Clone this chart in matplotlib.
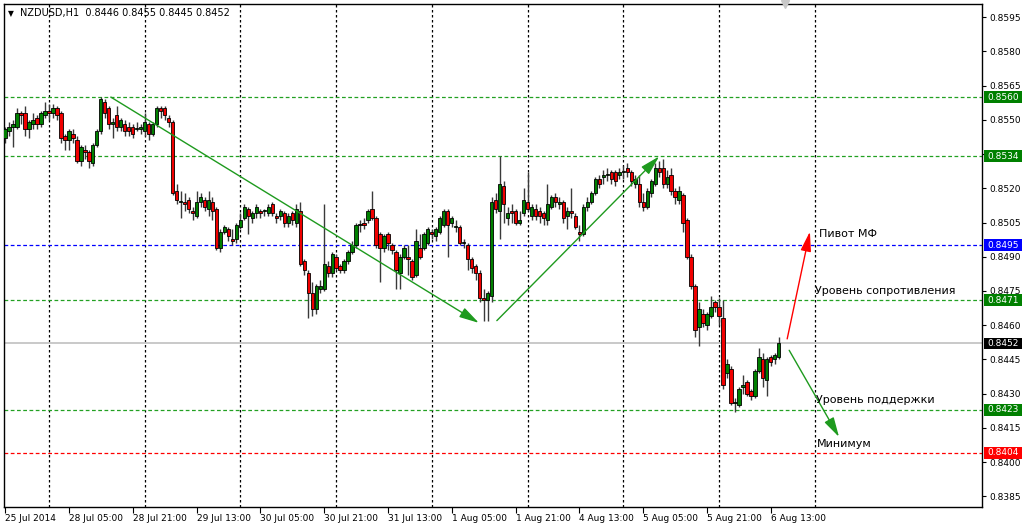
import numpy as np
import matplotlib.pyplot as plt
from matplotlib.patches import Rectangle
from matplotlib.transforms import blended_transform_factory

# NZDUSD H1 candles, 25 Jul 2014 13:00 .. 6 Aug 2014
opens = [0.8542, 0.8545, 0.8547, 0.8547, 0.8553, 0.8553, 0.8546, 0.8548, 0.8551, 0.8548,
         0.8552, 0.8554, 0.8553, 0.8555, 0.8553, 0.8543, 0.8541, 0.8544, 0.8541, 0.8532,
         0.8537, 0.8536, 0.8531, 0.8539, 0.8545, 0.8558, 0.8555, 0.8548, 0.8552, 0.8547,
         0.8548, 0.8547, 0.8547, 0.8546, 0.8546, 0.8545, 0.8548, 0.8544, 0.8548, 0.8555,
         0.8555, 0.8551, 0.8549, 0.8519, 0.8514, 0.8514, 0.8515, 0.8510, 0.8508, 0.8514,
         0.8515, 0.8511, 0.8514, 0.8511, 0.8494, 0.8501, 0.8502, 0.8498, 0.8498, 0.8503,
         0.8507, 0.8511, 0.8507, 0.8509, 0.8510, 0.8510, 0.8509, 0.8513, 0.8508, 0.8508,
         0.8509, 0.8505, 0.8509, 0.8505, 0.8510, 0.8488, 0.8483, 0.8474, 0.8467, 0.8476,
         0.8476, 0.8486, 0.8483, 0.8490, 0.8486, 0.8484, 0.8488, 0.8492, 0.8495, 0.8504,
         0.8505, 0.8506, 0.8511, 0.8507, 0.8500, 0.8494, 0.8500, 0.8495, 0.8492, 0.8483,
         0.8490, 0.8490, 0.8488, 0.8482, 0.8494, 0.8494, 0.8496, 0.8501, 0.8499, 0.8501,
         0.8504, 0.8510, 0.8505, 0.8503, 0.8503, 0.8496, 0.8495, 0.8489, 0.8486, 0.8483,
         0.8472, 0.8471, 0.8473, 0.8515, 0.8510, 0.8521, 0.8507, 0.8510, 0.8510, 0.8505,
         0.8509, 0.8514, 0.8508, 0.8511, 0.8510, 0.8509, 0.8506, 0.8512, 0.8516, 0.8513,
         0.8514, 0.8508, 0.8510, 0.8508, 0.8501, 0.8500, 0.8512, 0.8514, 0.8518, 0.8524,
         0.8525, 0.8526, 0.8527, 0.8527, 0.8526, 0.8527, 0.8529, 0.8527, 0.8522, 0.8522,
         0.8514, 0.8512, 0.8518, 0.8522, 0.8529, 0.8529, 0.8522, 0.8526, 0.8519, 0.8515,
         0.8517, 0.8506, 0.8490, 0.8477, 0.8459, 0.8465, 0.8460, 0.8464, 0.8470, 0.8468,
         0.8463, 0.8439, 0.8441, 0.8426, 0.8425, 0.8433, 0.8435, 0.8431, 0.8429, 0.8440,
         0.8445, 0.8436, 0.8446, 0.8445, 0.8446]
highs = [0.8547, 0.8549, 0.8550, 0.8555, 0.8554, 0.8556, 0.8550, 0.8553, 0.8552, 0.8554,
         0.8558, 0.8557, 0.8557, 0.8556, 0.8554, 0.8544, 0.8546, 0.8546, 0.8543, 0.8539,
         0.8539, 0.8537, 0.8540, 0.8546, 0.8560, 0.8559, 0.8556, 0.8551, 0.8556, 0.8551,
         0.8550, 0.8549, 0.8548, 0.8549, 0.8548, 0.8553, 0.8549, 0.8549, 0.8556, 0.8556,
         0.8556, 0.8552, 0.8550, 0.8522, 0.8519, 0.8518, 0.8516, 0.8512, 0.8519, 0.8518,
         0.8516, 0.8519, 0.8516, 0.8512, 0.8502, 0.8504, 0.8503, 0.8502, 0.8505, 0.8509,
         0.8513, 0.8512, 0.8510, 0.8513, 0.8511, 0.8511, 0.8513, 0.8514, 0.8509, 0.8511,
         0.8510, 0.8509, 0.8510, 0.8513, 0.8514, 0.8489, 0.8484, 0.8479, 0.8478, 0.8480,
         0.8513, 0.8488, 0.8492, 0.8491, 0.8487, 0.8489, 0.8493, 0.8497, 0.8505, 0.8506,
         0.8507, 0.8511, 0.8519, 0.8508, 0.8501, 0.8500, 0.8501, 0.8496, 0.8493, 0.8491,
         0.8495, 0.8495, 0.8489, 0.8502, 0.8500, 0.8501, 0.8503, 0.8502, 0.8503, 0.8508,
         0.8511, 0.8511, 0.8508, 0.8506, 0.8504, 0.8498, 0.8496, 0.8490, 0.8487, 0.8484,
         0.8476, 0.8475, 0.8516, 0.8518, 0.8534, 0.8523, 0.8512, 0.8513, 0.8511, 0.8510,
         0.8520, 0.8527, 0.8513, 0.8513, 0.8512, 0.8510, 0.8522, 0.8517, 0.8518, 0.8516,
         0.8515, 0.8512, 0.8520, 0.8509, 0.8504, 0.8513, 0.8516, 0.8519, 0.8525, 0.8526,
         0.8528, 0.8529, 0.8528, 0.8528, 0.8529, 0.8530, 0.8531, 0.8528, 0.8526, 0.8526,
         0.8518, 0.8520, 0.8524, 0.8531, 0.8532, 0.8533, 0.8528, 0.8529, 0.8520, 0.8521,
         0.8518, 0.8507, 0.8491, 0.8478, 0.8470, 0.8467, 0.8466, 0.8473, 0.8471, 0.8472,
         0.8471, 0.8445, 0.8442, 0.8428, 0.8433, 0.8438, 0.8436, 0.8432, 0.8441, 0.8450,
         0.8448, 0.8446, 0.8447, 0.8448, 0.8455]
lows = [0.8540, 0.8543, 0.8538, 0.8546, 0.8548, 0.8543, 0.8542, 0.8546, 0.8546, 0.8547,
        0.8551, 0.8550, 0.8551, 0.8550, 0.8540, 0.8537, 0.8537, 0.8540, 0.8531, 0.8530,
        0.8533, 0.8529, 0.8530, 0.8538, 0.8544, 0.8551, 0.8546, 0.8542, 0.8545, 0.8545,
        0.8543, 0.8543, 0.8542, 0.8545, 0.8544, 0.8543, 0.8541, 0.8543, 0.8547, 0.8551,
        0.8550, 0.8547, 0.8517, 0.8513, 0.8507, 0.8510, 0.8509, 0.8506, 0.8507, 0.8512,
        0.8510, 0.8508, 0.8506, 0.8493, 0.8492, 0.8500, 0.8497, 0.8495, 0.8496, 0.8502,
        0.8506, 0.8500, 0.8505, 0.8507, 0.8507, 0.8508, 0.8508, 0.8508, 0.8505, 0.8506,
        0.8503, 0.8503, 0.8504, 0.8503, 0.8486, 0.8482, 0.8463, 0.8464, 0.8465, 0.8474,
        0.8475, 0.8481, 0.8481, 0.8484, 0.8483, 0.8483, 0.8487, 0.8491, 0.8494, 0.8501,
        0.8502, 0.8505, 0.8506, 0.8494, 0.8479, 0.8492, 0.8493, 0.8491, 0.8476, 0.8476,
        0.8489, 0.8482, 0.8480, 0.8481, 0.8489, 0.8493, 0.8495, 0.8498, 0.8497, 0.8500,
        0.8503, 0.8490, 0.8503, 0.8501, 0.8495, 0.8494, 0.8484, 0.8483, 0.8480, 0.8470,
        0.8462, 0.8462, 0.8470, 0.8509, 0.8498, 0.8505, 0.8504, 0.8505, 0.8504, 0.8504,
        0.8508, 0.8510, 0.8506, 0.8506, 0.8505, 0.8504, 0.8504, 0.8511, 0.8512, 0.8511,
        0.8505, 0.8502, 0.8507, 0.8502, 0.8497, 0.8499, 0.8510, 0.8513, 0.8517, 0.8520,
        0.8522, 0.8523, 0.8522, 0.8521, 0.8524, 0.8524, 0.8525, 0.8521, 0.8520, 0.8512,
        0.8510, 0.8511, 0.8516, 0.8521, 0.8525, 0.8520, 0.8520, 0.8517, 0.8513, 0.8513,
        0.8501, 0.8489, 0.8476, 0.8455, 0.8451, 0.8459, 0.8458, 0.8463, 0.8466, 0.8460,
        0.8432, 0.8437, 0.8425, 0.8422, 0.8424, 0.8430, 0.8429, 0.8427, 0.8428, 0.8439,
        0.8433, 0.8429, 0.8442, 0.8443, 0.8445]
closes = [0.8546, 0.8547, 0.8548, 0.8553, 0.8552, 0.8546, 0.8549, 0.8550, 0.8548, 0.8553,
          0.8554, 0.8553, 0.8555, 0.8552, 0.8542, 0.8541, 0.8545, 0.8542, 0.8532, 0.8538,
          0.8536, 0.8532, 0.8539, 0.8545, 0.8559, 0.8553, 0.8548, 0.8549, 0.8547, 0.8550,
          0.8545, 0.8545, 0.8544, 0.8546, 0.8547, 0.8549, 0.8544, 0.8548, 0.8555, 0.8554,
          0.8552, 0.8549, 0.8518, 0.8515, 0.8514, 0.8513, 0.8511, 0.8509, 0.8514, 0.8516,
          0.8512, 0.8515, 0.8510, 0.8494, 0.8501, 0.8503, 0.8499, 0.8497, 0.8504, 0.8506,
          0.8512, 0.8508, 0.8509, 0.8512, 0.8509, 0.8510, 0.8512, 0.8509, 0.8507, 0.8510,
          0.8505, 0.8508, 0.8506, 0.8511, 0.8487, 0.8484, 0.8474, 0.8467, 0.8477, 0.8477,
          0.8487, 0.8483, 0.8491, 0.8485, 0.8484, 0.8488, 0.8492, 0.8495, 0.8504, 0.8504,
          0.8504, 0.8510, 0.8507, 0.8495, 0.8494, 0.8499, 0.8496, 0.8493, 0.8484, 0.8490,
          0.8494, 0.8489, 0.8481, 0.8497, 0.8490, 0.8500, 0.8502, 0.8500, 0.8502, 0.8507,
          0.8510, 0.8504, 0.8507, 0.8503, 0.8496, 0.8496, 0.8489, 0.8485, 0.8483, 0.8472,
          0.8471, 0.8474, 0.8514, 0.8511, 0.8522, 0.8513, 0.8509, 0.8509, 0.8505, 0.8506,
          0.8515, 0.8511, 0.8512, 0.8508, 0.8508, 0.8507, 0.8513, 0.8516, 0.8514, 0.8514,
          0.8507, 0.8510, 0.8509, 0.8503, 0.8500, 0.8512, 0.8514, 0.8518, 0.8524, 0.8522,
          0.8526, 0.8526, 0.8524, 0.8523, 0.8527, 0.8527, 0.8527, 0.8523, 0.8524, 0.8514,
          0.8512, 0.8519, 0.8523, 0.8529, 0.8527, 0.8522, 0.8525, 0.8519, 0.8516, 0.8519,
          0.8505, 0.8490, 0.8477, 0.8458, 0.8467, 0.8461, 0.8465, 0.8468, 0.8468, 0.8464,
          0.8434, 0.8443, 0.8426, 0.8426, 0.8432, 0.8434, 0.8430, 0.8429, 0.8440, 0.8446,
          0.8437, 0.8445, 0.8444, 0.8447, 0.8452]

tick_pos = [0, 16, 32, 48, 64, 80, 96, 112, 128, 144, 160, 176, 192]
tick_labels = ['25 Jul 2014', '28 Jul 05:00', '28 Jul 21:00', '29 Jul 13:00', '30 Jul 05:00',
               '30 Jul 21:00', '31 Jul 13:00', '1 Aug 05:00', '1 Aug 21:00', '4 Aug 13:00',
               '5 Aug 05:00', '5 Aug 21:00', '6 Aug 13:00']
day_starts = [11, 35, 59, 83, 107, 131, 155, 179, 203]

levels = [0.8560, 0.8534, 0.8495, 0.8471, 0.8423, 0.8404]
level_colors = ['#008000', '#008000', '#0000ff', '#008000', '#008000', '#ff0000']
line_colors = ['#22a022', '#22a022', '#0000ff', '#22a022', '#22a022', '#ff0000']
bid = 0.8452

# trend arrows (bar index, price)
arrow_from = [(26.5, 0.8560), (123.3, 0.8462), (196.1, 0.8454), (196.6, 0.8449)]
arrow_to = [(118.8, 0.8461), (164.0, 0.8534), (201.8, 0.8501), (209.1, 0.8411)]
arrow_colors = ['#1e9a1e', '#1e9a1e', '#ff0000', '#1e9a1e']

notes = ['Пивот МФ', 'Уровень сопротивления', 'Уровень поддержки', 'Минимум']
note_x = [204.1, 203.1, 203.3, 203.6]
note_y = [0.8500, 0.8475, 0.8427, 0.8408]

plt.rcParams['font.family'] = ['DejaVu Sans']

o = np.array(opens)
h = np.array(highs)
l = np.array(lows)
c = np.array(closes)
x = np.arange(len(c))

fig = plt.figure(figsize=(10.24, 5.28), dpi=100)
ax = fig.add_axes([4 / 1024, 21 / 528, 978 / 1024, 503 / 528])
ax.set_xlim(-0.28, 244.95)
ax.set_ylim(0.83803, 0.86008)

# grid (daily separators)
for d in day_starts:
    ax.axvline(d, color='black', lw=0.9, ls=(0, (2, 2)), zorder=1)

# levels
for lv, lc in zip(levels, line_colors):
    ax.axhline(lv, color=lc, lw=0.9, ls=(0, (3, 2)), zorder=1)
ax.axhline(bid, color='#c0c0c0', lw=1.2, zorder=1)

# candles
up = c >= o
ax.vlines(x, l, h, color='#3a3a3a', lw=1, zorder=2)
body = np.maximum(np.abs(c - o), 0.00004)
ax.bar(x[up], body[up], bottom=o[up], width=0.82, color='#008000',
       edgecolor='black', lw=0.6, zorder=3)
ax.bar(x[~up], body[~up], bottom=c[~up], width=0.82, color='#f00000',
       edgecolor='black', lw=0.6, zorder=3)

# arrows
for p0, p1, col in zip(arrow_from, arrow_to, arrow_colors):
    ax.annotate('', xy=p1, xytext=p0,
                arrowprops=dict(arrowstyle='-|>,head_length=1.2,head_width=0.32',
                                color=col, lw=1, mutation_scale=10,
                                shrinkA=0, shrinkB=0), zorder=4)

for t, tx, ty in zip(notes, note_x, note_y):
    ax.text(tx, ty, t, fontsize=8, va='center', ha='left', color='black', zorder=5)

# axes styling
for s in ax.spines.values():
    s.set_color('black')
    s.set_linewidth(1)
ax.yaxis.tick_right()
yt = np.round(np.arange(0.8385, 0.8596, 0.0015), 4)
ax.set_yticks(yt)
ax.set_yticklabels([f'{v:.4f}' for v in yt])
ax.tick_params(axis='y', length=3, width=0.8, pad=2, labelsize=6.5)
ax.set_xticks(tick_pos)
ax.set_xticklabels(tick_labels, ha='left')
ax.tick_params(axis='x', length=4, width=0.8, pad=1, labelsize=6.5)

# price tags on the right
trans = blended_transform_factory(ax.transAxes, ax.transData)
tags = levels + [bid]
tag_cols = level_colors + ['#000000']
for lv, lc in zip(tags, tag_cols):
    ax.add_patch(Rectangle((1.002, lv - 0.00026), 0.039, 0.00052, transform=trans,
                           facecolor=lc, edgecolor='none', clip_on=False, zorder=6))
    ax.text(1.0055, lv, f'{lv:.4f}', transform=trans, fontsize=6.5, color='white',
            va='center', ha='left', clip_on=False, zorder=7)

# header
ax.text(0.004, 0.982, '▼', transform=ax.transAxes, fontsize=5.5, va='center', ha='left')
ax.text(0.0165, 0.982,
        f'NZDUSD,H1  {opens[-1]:.4f} {highs[-1]:.4f} {lows[-1]:.4f} {closes[-1]:.4f}',
        transform=ax.transAxes, fontsize=7, va='center', ha='left')

# chart shift marker
ax.plot([len(c) + 0.6], [0.86008], marker='v', color='#c8c8c8', ms=6,
        clip_on=False, zorder=6)

fig.savefig('out.png', dpi=100, facecolor='white')
